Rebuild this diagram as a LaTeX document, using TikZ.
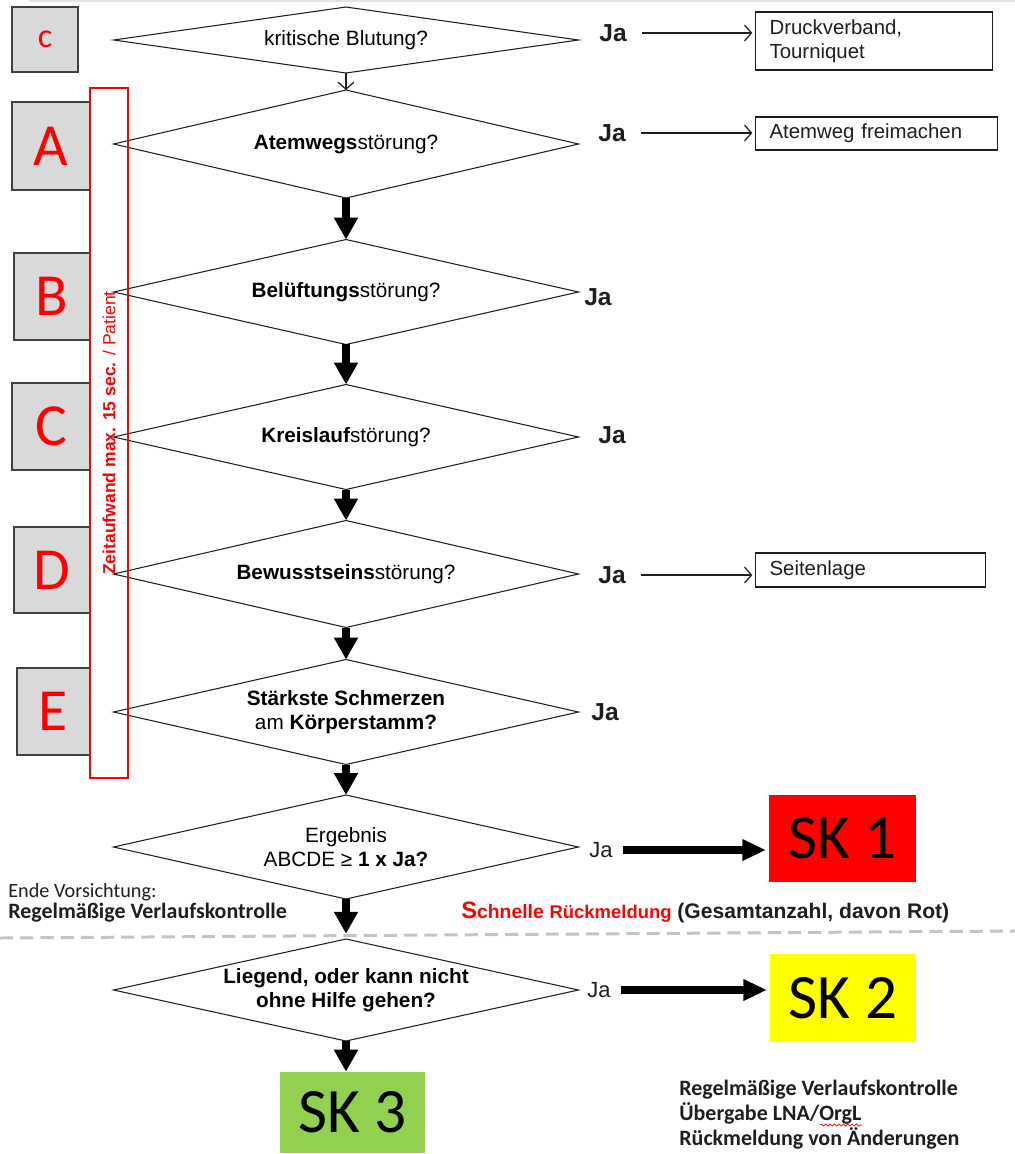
\documentclass[tikz,border=0pt]{standalone}
\usepackage{fontspec}
\setmainfont{Liberation Sans}
\newfontfamily\calibri{Carlito}
\usepackage{tikz}
\usetikzlibrary{arrows.meta,shapes.geometric,decorations.pathmorphing}
\definecolor{grisCaja}{RGB}{217,217,217}
\definecolor{grisBorde}{RGB}{64,64,64}
\definecolor{grisLinea}{RGB}{196,196,196}
\definecolor{rojo}{RGB}{255,0,0}
\definecolor{amarillo}{RGB}{255,255,0}
\definecolor{verde}{RGB}{146,208,80}
\definecolor{negro}{RGB}{30,30,30}
\tikzstyle{raute}=[diamond, draw=negro, line width=0.6pt,
                   inner sep=0pt, outer sep=0pt, aspect=4.6,
                   minimum width=9.3cm, align=center,
                   font=\fontsize{11.8}{14}\selectfont]
\tikzstyle{buchst}=[draw=grisBorde, fill=grisCaja, line width=0.8pt,
                    inner sep=0pt, text=rojo,
                    font=\calibri\fontsize{34}{34}\selectfont]
\tikzstyle{ja}=[inner sep=0pt, text=negro,
                font=\bfseries\fontsize{14}{16}\selectfont]
\tikzstyle{massn}=[draw=negro, line width=0.7pt, inner xsep=0.28cm,
                   inner ysep=0pt, align=left, anchor=west, text=negro,
                   font=\fontsize{11.6}{13.6}\selectfont]
\tikzstyle{sk}=[inner sep=0pt, font=\calibri\fontsize{36}{36}\selectfont]
\tikzstyle{pfeil}=[line width=4.5pt,
                   -{Triangle[length=12.5pt,width=13pt]}]
\tikzstyle{hpfeil}=[line width=4pt,
                    -{Triangle[length=13.5pt,width=11.5pt]},
                    shorten <=6pt, shorten >=1.5pt]
\tikzstyle{dpfeil}=[line width=0.7pt, draw=negro,
                    -{Straight Barb[length=4pt,width=9pt]},
                    shorten <=8.5pt, shorten >=1.5pt]

\begin{document}
\begin{tikzpicture}[x=0.02cm, y=-0.02cm]
    \useasboundingbox (0,0) rectangle (1015,1154);
    \draw[gray!20, line width=0.6pt] (29,1) -- (1015,1);

    % Trennlinie
    \draw[grisLinea, line width=1.7pt, dash pattern=on 7.5pt off 4pt]
        (0,938) -- (1015,931);

    % Rauten
    \node[raute, minimum height=1.32cm] (d0) at (346,40) {kritische Blutung?};
    \node[raute, minimum height=2.16cm] (d1) at (346,144)
        {\textbf{Atemwegs}störung?};
    \node[raute, minimum height=2.1cm] (d2) at (346,292)
        {\textbf{Belüftungs}störung?};
    \node[raute, minimum height=2.1cm] (d3) at (346,437)
        {\textbf{Kreislauf}störung?};
    \node[raute, minimum height=2.14cm] (d4) at (346,574)
        {\textbf{Bewusstseins}störung?};
    \node[raute, minimum height=2.1cm] (d5) at (346,712)
        {\textbf{Stärkste Schmerzen}\\am \textbf{Körperstamm?}};
    \node[raute, minimum height=2.08cm] (d6) at (346,847)
        {Ergebnis\\ABCDE ≥ \textbf{1 x Ja?}};
    \node[raute, minimum height=2.04cm] (d7) at (346,990)
        {\textbf{Liegend, oder kann nicht}\\\textbf{ohne Hilfe gehen?}};

    % Buchstaben
    \node[buchst, minimum width=1.32cm, minimum height=1.3cm,
          font=\calibri\fontsize{19.5}{20}\selectfont] (bc) at (45,39.5) {c};
    \foreach \n/\x/\y/\w/\h in {A/51/146/1.56/1.76, B/52/296.5/1.52/1.74,
                                C/51/426.5/1.56/1.74, D/52/570/1.52/1.72,
                                E/53.5/711.5/1.46/1.74}
        \node[buchst, minimum width=\w cm, minimum height=\h cm] (b\n) at (\x,\y) {\n};

    \node[draw=rojo, line width=0.8pt, rotate=90, minimum width=13.8cm,
          minimum height=0.76cm, inner sep=0pt, text=rojo,
          font=\fontsize{10}{12}\selectfont] (zeit) at (109,433)
        {\textbf{Zeitaufwand max. 15 sec.} / Patient};

    % Ja
    \foreach \i/\x/\y in {0/613/33, 1/612/133, 2/598/297, 3/612/435,
                          4/612/575, 5/605/712}
        \node[ja] (ja\i) at (\x,\y) {Ja};
    \foreach \i/\x/\y in {6/601/850, 7/599/990}
        \node[ja, font=\fontsize{12.5}{14}\selectfont] (ja\i) at (\x,\y) {Ja};

    % Massnahmen
    \node[massn, text width=4.18cm, minimum height=1.16cm] (m0) at (755,41)
        {Druckverband,\\Tourniquet};
    \node[massn, text width=4.28cm, minimum height=0.66cm] (m1) at (755,133.5)
        {Atemweg freimachen};
    \node[massn, text width=4.04cm, minimum height=0.68cm] (m4) at (755,570)
        {Seitenlage};

    % Sichtungskategorien
    \node[sk, fill=rojo, minimum width=2.94cm, minimum height=1.74cm] (sk1)
        at (842.5,838.5) {SK 1};
    \node[sk, fill=amarillo, minimum width=2.92cm, minimum height=1.76cm] (sk2)
        at (843,998) {SK 2};
    \node[sk, fill=verde, minimum width=2.9cm, minimum height=1.62cm] (sk3)
        at (352.5,1112.5) {SK 3};

    % Texte
    \node[anchor=west, inner sep=0pt, text=negro,
          font=\calibri\fontsize{11.5}{13}\selectfont] (ende) at (8,892)
        {Ende Vorsichtung:};
    \node[anchor=west, inner sep=0pt, text=negro,
          font=\calibri\bfseries\fontsize{12.5}{14}\selectfont] (regel) at (8,913)
        {Regelmäßige Verlaufskontrolle};
    \node[anchor=west, inner sep=0pt, text=negro,
          font=\bfseries\fontsize{12}{14}\selectfont] (schnell) at (461,912)
        {{\color{rojo}\fontsize{13.5}{14}\selectfont S}{\color{rojo}\fontsize{11}{14}\selectfont chnelle}
         {\color{rojo}\fontsize{10.5}{14}\selectfont Rückmeldung} (Gesamtanzahl, davon Rot)};
    \node[anchor=west, align=left, inner sep=0pt, text=negro,
          font=\calibri\bfseries\fontsize{12.5}{14.2}\selectfont] (hinweis) at (679,1115)
        {Regelmäßige Verlaufskontrolle\\Übergabe LNA/OrgL\\Rückmeldung von Änderungen};
    \draw[rojo, line width=0.4pt, decorate,
          decoration={snake, segment length=2.5pt, amplitude=0.6pt}]
        (820,1125) -- (862,1125);

    % Pfeile
    \draw[dpfeil, shorten <=0pt, shorten >=0pt] (d0.south) -- (d1.north);
    \foreach \a/\b in {d1/d2, d2/d3, d3/d4, d4/d5, d5/d6}
        \draw[pfeil] (\a.south) -- (\b.north);
    \draw[pfeil, shorten >=3pt] (d6.south) -- (d7.north);
    \draw[pfeil] (d7.south) -- (d7.south |- sk3.north);
    \foreach \i/\m in {0/m0, 1/m1, 4/m4}
        \draw[dpfeil] (ja\i.east) -- (ja\i.east -| \m.west);
    \draw[hpfeil] (ja6.east) -- (ja6.east -| sk1.west);
    \draw[hpfeil] (ja7.east) -- (ja7.east -| sk2.west);
\end{tikzpicture}
\end{document}
